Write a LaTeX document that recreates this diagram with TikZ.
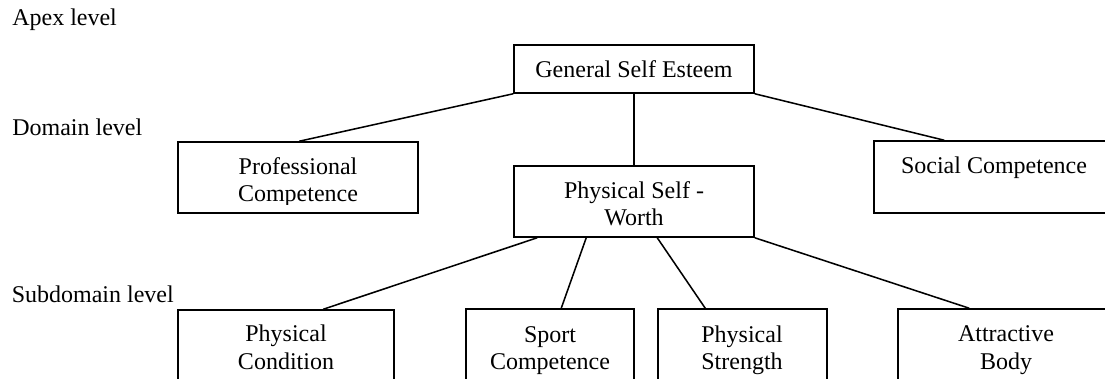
\documentclass[tikz,border=0pt]{standalone}
\usepackage{fontspec}
\setmainfont{Liberation Serif}
\usetikzlibrary{fit,calc}
\tikzset{
  box/.style={draw=black, line width=1.15pt, inner sep=0pt},
  conn/.style={draw=black, line width=1.15pt},
  lbl/.style={inner sep=0pt, anchor=base west, font=\fontsize{18}{20.6}\selectfont},
  txt/.style={inner sep=0pt, anchor=base, font=\fontsize{18}{20.6}\selectfont},
}
\newcommand{\twol}[2]{\setlength{\tabcolsep}{0pt}\begin{tabular}[t]{c}#1\\#2\end{tabular}}
\begin{document}
\begin{tikzpicture}[x=0.75pt, y=-0.75pt]
\useasboundingbox (0,0) rectangle (1105,378);
\clip (0,0) rectangle (1105,378);
\fill[white] (0,0) rectangle (1105,378);

% level labels
\node[lbl] (apex) at (12,26) {Apex level};
\node[lbl] (dom) at (12,135.5) {Domain level};
\node[lbl] (sub) at (11.5,302.7) {Subdomain level};

% boxes
\node[box, fit={(514,45) (754,93)}] (gse) {};
\node[box, fit={(178,142) (418,213)}] (prof) {};
\node[box, fit={(514,166) (754,237)}] (psw) {};
\node[box, fit={(874,141) (1114,213)}] (soc) {};
\node[box, fit={(178,310) (394,400)}] (cond) {};
\node[box, fit={(466,309) (634,400)}] (sport) {};
\node[box, fit={(658,309) (827,400)}] (strength) {};
\node[box, fit={(898,309) (1114,400)}] (attr) {};

% box texts
\node[txt] (gseT) at (634,77) {General Self Esteem};
\begin{scope}
\clip (178,142) rectangle (418,204);
\node[txt] (profT) at (298,174) {\twol{Professional}{Competence}};
\end{scope}
\node[txt] (pswT) at (634,198.3) {\twol{Physical Self -}{Worth}};
\node[txt] (socT) at (994,173) {Social Competence};
\node[txt] (condT) at (286,341.7) {\twol{Physical}{Condition}};
\node[txt] (sportT) at (550,342.2) {\twol{Sport}{Competence}};
\node[txt] (strengthT) at (742,342.2) {\twol{Physical}{Strength}};
\node[txt] (attrT) at (1006,341.7) {\twol{Attractive}{Body}};

% connectors
\draw[conn] (gse.south west) -- ($(prof.north west)+(122,0)$);
\draw[conn] (gse.south) -- (psw.north);
\draw[conn] (gse.south east) -- ($(soc.north west)+(71,0)$);
\draw[conn] ($(psw.south west)+(24,0)$) -- ($(cond.north west)+(146,0)$);
\draw[conn] ($(psw.south west)+(73,0)$) -- ($(sport.north west)+(96,0)$);
\draw[conn] ($(psw.south west)+(144,0)$) -- ($(strength.north west)+(48,0)$);
\draw[conn] (psw.south east) -- ($(attr.north west)+(72,0)$);
\end{tikzpicture}
\end{document}
